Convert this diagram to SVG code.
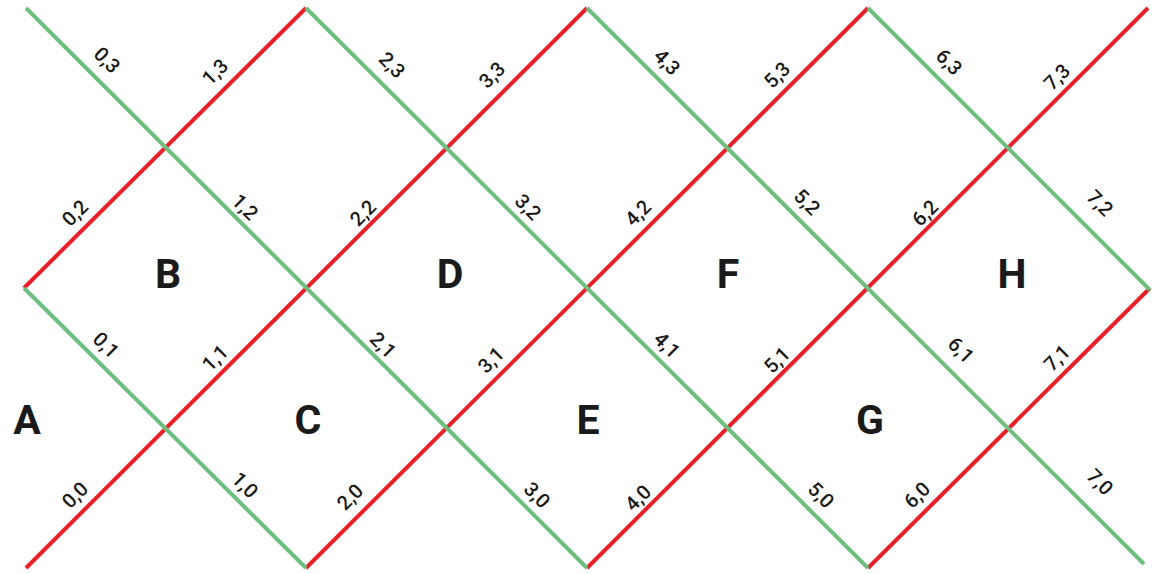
<svg xmlns="http://www.w3.org/2000/svg" width="1156" height="574" viewBox="0 0 1156 574">
<style>
.r{stroke:#ea1f28;stroke-width:4;fill:none}
.g{stroke:#6cbf7f;stroke-width:4;fill:none}
.l{font-family:Roboto,"Liberation Sans",sans-serif;font-size:20px;font-weight:500;fill:#1a1a1a;text-anchor:middle;dominant-baseline:central}
.n{font-family:Roboto,"Liberation Sans",sans-serif;font-size:41px;font-weight:700;fill:#1a1a1a;text-anchor:middle;dominant-baseline:central}
</style>
<rect width="1156" height="574" fill="#ffffff"/>
<g id="connectors">
<line class="r" x1="26" y1="568" x2="587" y2="8"/>
<line class="r" x1="24" y1="288" x2="306" y2="8"/>
<line class="r" x1="306" y1="568" x2="868" y2="8"/>
<line class="r" x1="587" y1="568" x2="1148" y2="8"/>
<line class="r" x1="868" y1="568" x2="1150" y2="288"/>
<line class="g" x1="26" y1="8" x2="587" y2="568"/>
<line class="g" x1="24" y1="288" x2="306" y2="568"/>
<line class="g" x1="306" y1="8" x2="868" y2="568"/>
<line class="g" x1="587" y1="8" x2="1144" y2="564"/>
<line class="g" x1="868" y1="8" x2="1150" y2="290"/>
</g>
<g id="edge-labels">
<text class="l" transform="translate(107,60) rotate(45)">0,3</text>
<text class="l" transform="translate(215,72) rotate(-45)">1,3</text>
<text class="l" transform="translate(392,65) rotate(45)">2,3</text>
<text class="l" transform="translate(492,75) rotate(-45)">3,3</text>
<text class="l" transform="translate(667,62) rotate(45)">4,3</text>
<text class="l" transform="translate(777,75) rotate(-45)">5,3</text>
<text class="l" transform="translate(949,62) rotate(45)">6,3</text>
<text class="l" transform="translate(1057,77) rotate(-45)">7,3</text>
<text class="l" transform="translate(75,213) rotate(-45)">0,2</text>
<text class="l" transform="translate(245,207) rotate(45)">1,2</text>
<text class="l" transform="translate(363,213) rotate(-45)">2,2</text>
<text class="l" transform="translate(528,207) rotate(45)">3,2</text>
<text class="l" transform="translate(638,213) rotate(-45)">4,2</text>
<text class="l" transform="translate(807,202) rotate(45)">5,2</text>
<text class="l" transform="translate(925,213) rotate(-45)">6,2</text>
<text class="l" transform="translate(1100,203) rotate(45)">7,2</text>
<text class="l" transform="translate(106,345) rotate(45)">0,1</text>
<text class="l" transform="translate(215,358) rotate(-45)">1,1</text>
<text class="l" transform="translate(383,345) rotate(45)">2,1</text>
<text class="l" transform="translate(491,360) rotate(-45)">3,1</text>
<text class="l" transform="translate(667,345) rotate(45)">4,1</text>
<text class="l" transform="translate(777,360) rotate(-45)">5,1</text>
<text class="l" transform="translate(961,350) rotate(45)">6,1</text>
<text class="l" transform="translate(1057,358) rotate(-45)">7,1</text>
<text class="l" transform="translate(75,495) rotate(-45)">0,0</text>
<text class="l" transform="translate(245,485) rotate(45)">1,0</text>
<text class="l" transform="translate(350,497) rotate(-45)">2,0</text>
<text class="l" transform="translate(537,495) rotate(45)">3,0</text>
<text class="l" transform="translate(638,498) rotate(-45)">4,0</text>
<text class="l" transform="translate(821,495) rotate(45)">5,0</text>
<text class="l" transform="translate(917,495) rotate(-45)">6,0</text>
<text class="l" transform="translate(1100,482) rotate(45)">7,0</text>
</g>
<g id="node-A"><text class="n" x="27" y="420">A</text></g>
<g id="node-B"><text class="n" x="168" y="274">B</text></g>
<g id="node-C"><text class="n" x="308" y="420">C</text></g>
<g id="node-D"><text class="n" x="450" y="274">D</text></g>
<g id="node-E"><text class="n" x="588" y="420">E</text></g>
<g id="node-F"><text class="n" x="728" y="274">F</text></g>
<g id="node-G"><text class="n" x="870" y="420">G</text></g>
<g id="node-H"><text class="n" x="1012" y="274">H</text></g>
</svg>
